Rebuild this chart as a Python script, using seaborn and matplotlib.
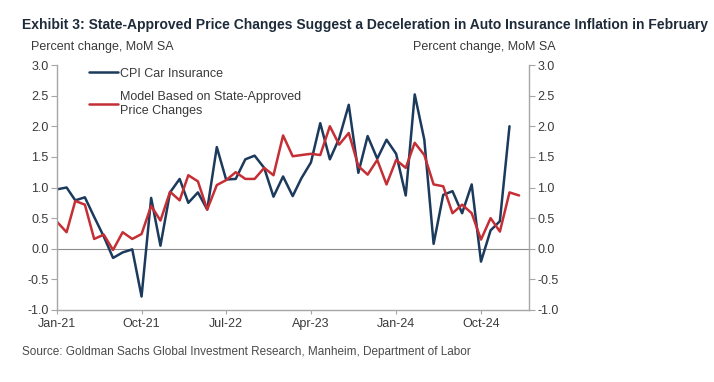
import matplotlib
matplotlib.use("Agg")
import matplotlib.pyplot as plt
import matplotlib.dates as mdates
from matplotlib import font_manager
import seaborn as sns
import pandas as pd

# monthly series, Jan-21 onwards
cpi_car_insurance = [
    0.97, 1.00, 0.79, 0.84, 0.52, 0.20, -0.15, -0.06, -0.01, -0.78,
    0.83, 0.05, 0.92, 1.14, 0.75, 0.92, 0.64, 1.66, 1.13, 1.14,
    1.46, 1.52, 1.32, 0.85, 1.18, 0.86, 1.15, 1.41, 2.05, 1.46,
    1.80, 2.35, 1.24, 1.84, 1.47, 1.78, 1.55, 0.87, 2.52, 1.78,
    0.08, 0.88, 0.94, 0.58, 1.05, -0.21, 0.30, 0.45, 2.00,
]
model_state_approved = [
    0.44, 0.27, 0.78, 0.72, 0.16, 0.23, -0.02, 0.27, 0.16, 0.24,
    0.70, 0.46, 0.93, 0.79, 1.20, 1.10, 0.64, 1.04, 1.12, 1.25,
    1.14, 1.14, 1.32, 1.20, 1.85, 1.51, 1.53, 1.55, 1.53, 2.00,
    1.70, 1.89, 1.35, 1.21, 1.45, 1.05, 1.45, 1.32, 1.73, 1.53,
    1.05, 1.02, 0.58, 0.72, 0.58, 0.15, 0.50, 0.28, 0.92, 0.87,
]
series_names = ["CPI Car Insurance", "Model Based on State-Approved\nPrice Changes"]
series_colors = ["#1B3A5C", "#C42F35"]
y_ticks = [-1.0, -0.5, 0.0, 0.5, 1.0, 1.5, 2.0, 2.5, 3.0]
x_tick_dates = ["2021-01-01", "2021-10-01", "2022-07-01", "2023-04-01", "2024-01-01", "2024-10-01"]

months_cpi = pd.date_range("2021-01-01", periods=len(cpi_car_insurance), freq="MS")
months_model = pd.date_range("2021-01-01", periods=len(model_state_approved), freq="MS")
df = pd.concat([
    pd.DataFrame({"month": months_cpi, "value": cpi_car_insurance, "series": series_names[0]}),
    pd.DataFrame({"month": months_model, "value": model_state_approved, "series": series_names[1]}),
])

sns.set_theme(style="white")
names = {f.name for f in font_manager.fontManager.ttflist}
base_font = "Liberation Sans" if "Liberation Sans" in names else "DejaVu Sans"
plt.rcParams["font.family"] = [base_font, "DejaVu Sans"]

txt = "#3A3A3A"
grey = "#A6A6A6"

fig = plt.figure(figsize=(7.14, 3.82), dpi=100)
ax = fig.add_axes([57 / 714, 1 - 310 / 382, 472 / 714, 245 / 382])

sns.lineplot(data=df, x="month", y="value", hue="series", hue_order=series_names,
             palette=series_colors, linewidth=1.8, ax=ax)

ax.axhline(0, color="#8C8C8C", linewidth=0.8, zorder=0)
ax.set_ylim(-1.0, 3.0)
ax.set_yticks(y_ticks)
ax.set_yticklabels([f"{v:.1f}" for v in y_ticks])
ax.set_xlim(pd.Timestamp("2021-01-01"), pd.Timestamp("2025-03-05"))
ax.set_xticks(pd.to_datetime(x_tick_dates))
ax.xaxis.set_major_formatter(mdates.DateFormatter("%b-%y"))
ax.set_xlabel("")
ax.set_ylabel("")

for side in ["left", "right", "bottom"]:
    ax.spines[side].set_visible(True)
    ax.spines[side].set_color(grey)
    ax.spines[side].set_linewidth(1.0)
ax.spines["top"].set_visible(False)

ax.tick_params(axis="y", which="both", left=True, right=True, labelleft=True, labelright=True,
               direction="out", length=4, width=0.8, color=grey, labelsize=9, labelcolor=txt, pad=2)
ax.tick_params(axis="x", bottom=True, direction="out", length=3, width=0.8, color=grey,
               labelsize=9, labelcolor=txt, pad=3)

handles, labels = ax.get_legend_handles_labels()
ax.legend(handles, labels, loc="upper left", bbox_to_anchor=(0.045, 1.035), frameon=False,
          fontsize=9, handlelength=2.3, handletextpad=0.15, labelspacing=0.9, labelcolor=txt)

fig.text(31 / 714, 1 - 47 / 382, "Percent change, MoM SA", fontsize=9, color=txt, va="center", ha="left")
fig.text(556 / 714, 1 - 47 / 382, "Percent change, MoM SA", fontsize=9, color=txt, va="center", ha="right")

title = fig.text(22 / 714, 1 - 25 / 382,
                 "Exhibit 3: State-Approved Price Changes Suggest a Deceleration in Auto Insurance Inflation in February",
                 fontsize=11, fontweight="bold", color="#1E2B3A", va="center", ha="left")
source = fig.text(22 / 714, 1 - 352 / 382,
                  "Source: Goldman Sachs Global Investment Research, Manheim, Department of Labor",
                  fontsize=10.5, color="#4A4A4A", va="center", ha="left")

# the original uses a condensed face; shrink to the same width instead
renderer = fig.canvas.get_renderer()
for t, width_px in [(title, 684), (source, 453)]:
    w = t.get_window_extent(renderer).width
    t.set_fontsize(t.get_fontsize() * width_px / w)

fig.savefig("out.png", dpi=100)
